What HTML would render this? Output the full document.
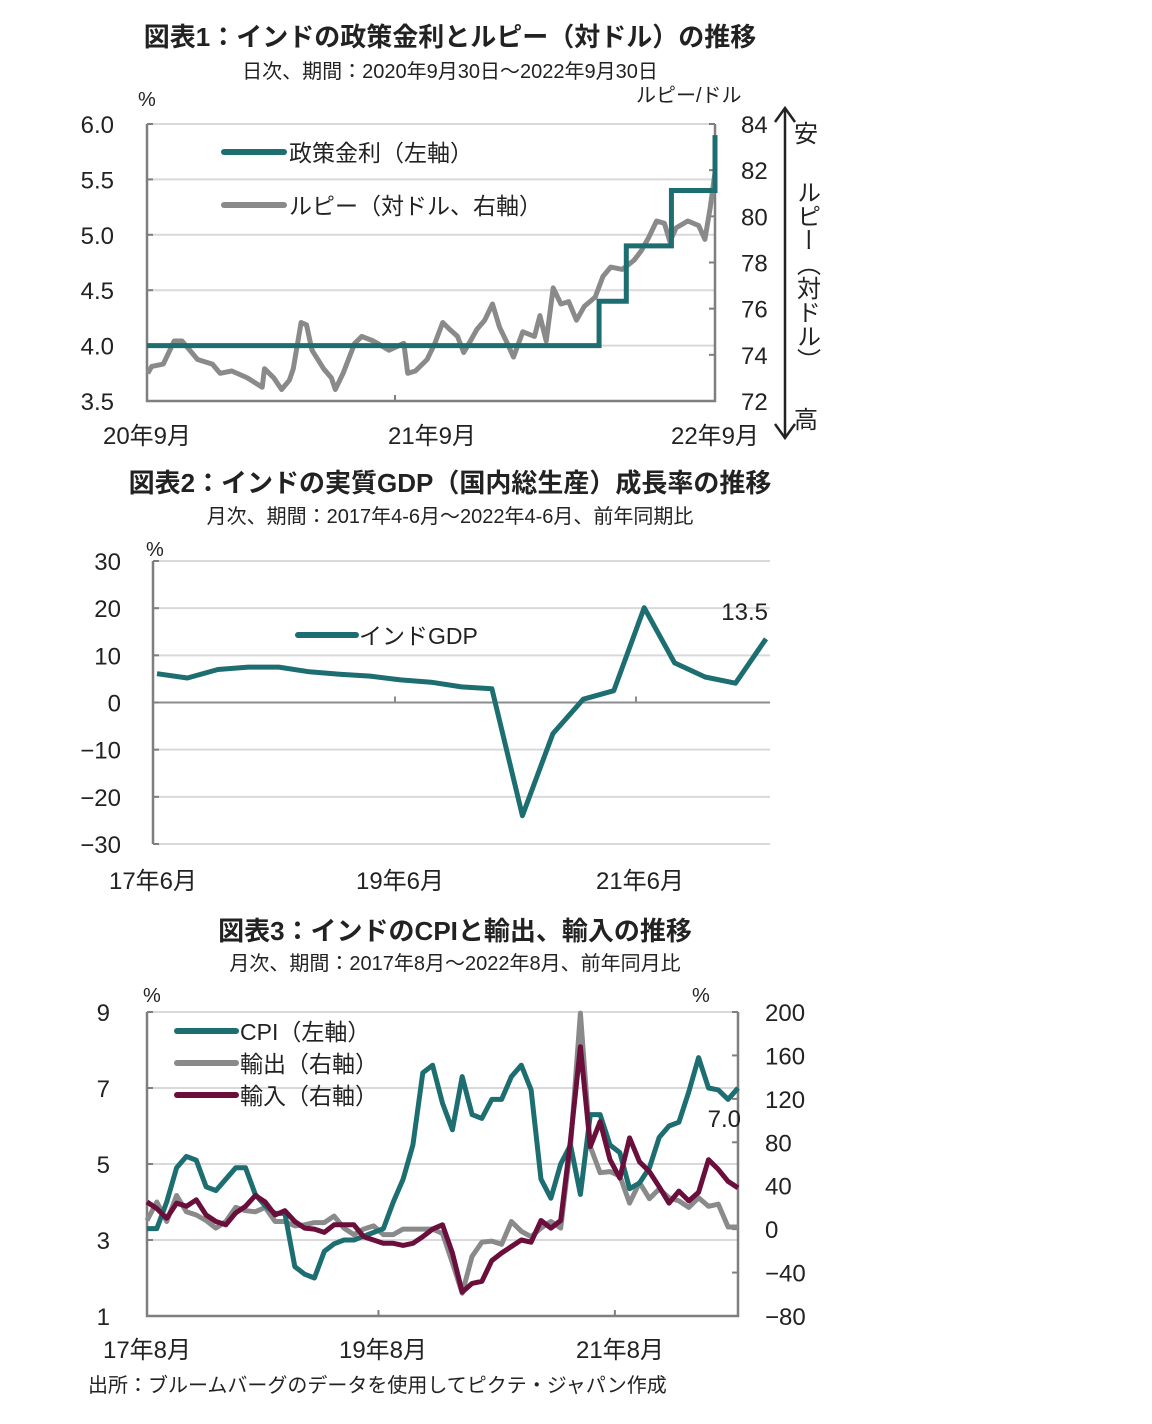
<!DOCTYPE html>
<html><head><meta charset="utf-8">
<style>
html,body{margin:0;padding:0;background:#fff;}
svg{display:block;font-family:"Liberation Sans","Noto Sans CJK JP",sans-serif;}
.t{font-size:26px;font-weight:bold;fill:#222;}
.s{font-size:20px;fill:#222;}
.k{font-size:24px;fill:#222;}
.l{font-size:23px;fill:#222;}
.g{stroke:#d9d9d9;stroke-width:2;}
.ax{stroke:#7f7f7f;stroke-width:2.5;fill:none;}
</style></head><body>
<svg id="chart" width="1152" height="1424" viewBox="0 0 1152 1424">
<text class="t" x="450" y="46" text-anchor="middle">図表1：インドの政策金利とルピー（対ドル）の推移</text>
<text class="s" x="450" y="78" text-anchor="middle">日次、期間：2020年9月30日～2022年9月30日</text>
<text class="s" x="138" y="106">%</text>
<text class="s" x="636" y="102">ルピー/ドル</text>
<g id="c1"></g>
<g>
<line x1="785" y1="110" x2="785" y2="436" stroke="#222" stroke-width="2.5"/>
<polyline points="775,122 785,108 795,122" fill="none" stroke="#222" stroke-width="2.5"/>
<polyline points="775,424 785,438 795,424" fill="none" stroke="#222" stroke-width="2.5"/>
<text class="k" x="806" y="142" text-anchor="middle">安</text>
<text class="k" x="806" y="428" text-anchor="middle">高</text>
<text class="k" x="806" y="180" text-anchor="start" style="writing-mode:vertical-rl;">ルピー（対ドル）</text>
</g>

<text class="t" x="450" y="492" text-anchor="middle">図表2：インドの実質GDP（国内総生産）成長率の推移</text>
<text class="s" x="450" y="523" text-anchor="middle">月次、期間：2017年4-6月～2022年4-6月、前年同期比</text>
<text class="s" x="146" y="556">%</text>
<g id="c2"></g>

<text class="t" x="455" y="940" text-anchor="middle">図表3：インドのCPIと輸出、輸入の推移</text>
<text class="s" x="455" y="970" text-anchor="middle">月次、期間：2017年8月～2022年8月、前年同月比</text>
<text class="s" x="143" y="1002">%</text>
<text class="s" x="692" y="1002">%</text>
<g id="c3"></g>
<text class="s" x="88" y="1392">出所：ブルームバーグのデータを使用してピクテ・ジャパン作成</text>
</svg>
<script>
// ---- Chart 1 data ----
const c1LeftTicks = [6.0, 5.5, 5.0, 4.5, 4.0, 3.5];
const c1RightTicks = [84, 82, 80, 78, 76, 74, 72];
const c1XLabels = ["20年9月", "21年9月", "22年9月"];
const c1XLabelDays = [0, 365, 730];
const rateDays = [0, 581, 616, 674, 730];
const rateValues = [4.0, 4.4, 4.9, 5.4, 5.9];
const rupeeDays = [1,6,21,35,45,65,84,94,109,129,148,151,163,173,183,188,198,205,212,227,237,242,252,267,276,291,311,330,335,345,360,370,380,389,399,407,414,424,434,444,453,463,471,483,498,505,513,522,532,542,552,562,576,586,596,611,626,635,645,655,665,672,680,695,709,717,724,730];
const rupeeValues = [73.2,73.5,73.6,74.6,74.6,73.8,73.6,73.2,73.3,73.0,72.6,73.4,73.0,72.5,72.9,73.4,75.4,75.3,74.2,73.4,73.0,72.5,73.2,74.5,74.8,74.6,74.2,74.5,73.2,73.3,73.8,74.5,75.4,75.1,74.8,74.1,74.5,75.1,75.5,76.2,75.2,74.5,73.9,75.0,74.8,75.7,74.6,76.9,76.2,76.3,75.5,76.1,76.5,77.4,77.8,77.7,78.1,78.5,79.1,79.8,79.7,78.9,79.5,79.8,79.6,79.0,80.4,81.9];

// ---- Chart 2 data ----
const gdpTicks = [30, 20, 10, 0, -10, -20, -30];
const gdpXLabels = ["17年6月", "19年6月", "21年6月"];
const gdpXLabelIdx = [0, 8, 16];
const gdpValues = [6.1,5.2,7.0,7.5,7.5,6.5,6.0,5.6,4.8,4.3,3.3,2.9,-24.0,-6.6,0.7,2.5,20.1,8.4,5.4,4.1,13.5];

// ---- Chart 3 data ----
const c3LeftTicks = [9, 7, 5, 3, 1];
const c3RightTicks = [200, 160, 120, 80, 40, 0, -40, -80];
const c3XLabels = ["17年8月", "19年8月", "21年8月"];
const c3XLabelIdx = [0, 24, 48];
const cpiValues = [3.3,3.3,4.0,4.9,5.2,5.1,4.4,4.3,4.6,4.9,4.9,4.2,3.9,3.7,3.7,2.3,2.1,2.0,2.7,2.9,3.0,3.0,3.1,3.2,3.3,4.0,4.6,5.5,7.4,7.6,6.6,5.9,7.3,6.3,6.2,6.7,6.7,7.3,7.6,6.95,4.6,4.1,5.0,5.5,4.2,6.3,6.3,5.5,5.3,4.35,4.5,4.9,5.7,6.0,6.1,6.9,7.8,7.0,6.95,6.7,7.0];
const exportValues = [8,25,7,31,16,13,8,1,7,20,17,16,20,7,7,3,4,6,6,12,1,-5,0,3,-5,-5,0,0,0,0,-4,-31,-59,-25,-12,-11,-14,7,-2,-7,1,7,1,76,199,76,52,53,49,24,43,28,37,29,26,20,29,21,23,2,2];
const importValues = [25,19,10,24,21,27,13,7,4,15,21,31,25,13,17,7,1,0,-3,4,4,4,-7,-10,-13,-13,-15,-13,-7,0,4,-22,-58,-50,-48,-29,-22,-16,-10,-12,8,1,8,82,168,76,99,64,47,84,62,53,39,24,35,26,34,64,55,44,38];

const NS = "http://www.w3.org/2000/svg";
function mk(parent, tag, attrs, text) {
  const e = document.createElementNS(NS, tag);
  for (const k in attrs) e.setAttribute(k, attrs[k]);
  if (text !== undefined) e.textContent = text;
  parent.appendChild(e);
  return e;
}
function lin(d0, d1, r0, r1) { return v => r0 + (v - d0) * (r1 - r0) / (d1 - d0); }
const TEAL = "#1d6e70", GRAY = "#8a8a8a", MAROON = "#6a0e3b";

// ===== Chart 1 =====
(function () {
  const g = document.getElementById("c1");
  const L = 147, R = 715, T = 124, B = 401;
  const x = lin(0, 730, L, R), yl = lin(3.5, 6.0, B, T), yr = lin(72, 84, B, T);
  c1LeftTicks.forEach(v => {
    if (v !== 3.5) {
      const gl = mk(g, "line", {x1: L, x2: R, y1: yl(v), y2: yl(v), class: "g"});
      
      
    }
    mk(g, "line", {x1: L, x2: L + 6, y1: yl(v), y2: yl(v), stroke: "#7f7f7f", "stroke-width": 2});
    const t = mk(g, "text", {x: 114, y: yl(v) + 9, class: "k", "text-anchor": "end"}, v.toFixed(1));
    
    
  });
  c1RightTicks.forEach(v => {
    mk(g, "line", {x1: R - 6, x2: R, y1: yr(v), y2: yr(v), stroke: "#7f7f7f", "stroke-width": 2});
    const t = mk(g, "text", {x: 741, y: yr(v) + 9, class: "k"}, String(v));
    
    
  });
  mk(g, "path", {d: `M${L},${T} V${B} H${R} V${T}`, class: "ax"});
  mk(g, "line", {x1: 395, x2: 395, y1: B, y2: B - 6, stroke: "#7f7f7f", "stroke-width": 2});
  c1XLabels.forEach((s, i) => {
    const t = mk(g, "text", {x: i === 1 ? 432 : x(c1XLabelDays[i]), y: 444, class: "k", "text-anchor": "middle"}, s);
    
    
  });
  const rp = rupeeDays.map((d, i) => `${x(d).toFixed(1)},${yr(rupeeValues[i]).toFixed(1)}`).join(" ");
  const rl = mk(g, "polyline", {points: rp, fill: "none", stroke: GRAY, "stroke-width": 5, "stroke-linejoin": "round"});
  
  
  let d = `M${x(rateDays[0])},${yl(rateValues[0])}`;
  for (let i = 1; i < rateDays.length; i++) d += ` H${x(rateDays[i])} V${yl(rateValues[i])}`;
  const pl = mk(g, "path", {d: d, fill: "none", stroke: TEAL, "stroke-width": 5});
  
  
  const lg = mk(g, "g", {});
  
  
  mk(lg, "line", {x1: 224, x2: 284, y1: 152, y2: 152, stroke: TEAL, "stroke-width": 6, "stroke-linecap": "round"});
  mk(lg, "text", {x: 289, y: 161, class: "l"}, "政策金利（左軸）");
  mk(lg, "line", {x1: 224, x2: 284, y1: 205, y2: 205, stroke: GRAY, "stroke-width": 6, "stroke-linecap": "round"});
  mk(lg, "text", {x: 289, y: 214, class: "l"}, "ルピー（対ドル、右軸）");
})();

// ===== Chart 2 =====
(function () {
  const g = document.getElementById("c2");
  const L = 153, R = 770, T = 561, B = 844;
  const x = lin(0, 20, 157, 766), y = lin(-30, 30, B, T);
  gdpTicks.forEach(v => {
    const gl = mk(g, "line", {x1: L, x2: R, y1: y(v), y2: y(v), stroke: v === 0 ? "#8c8c8c" : "#d9d9d9", "stroke-width": 2});
    
    
    mk(g, "line", {x1: L, x2: L + 6, y1: y(v), y2: y(v), stroke: "#7f7f7f", "stroke-width": 2});
    const t = mk(g, "text", {x: 121, y: y(v) + 9, class: "k", "text-anchor": "end"}, String(v).replace("-", "−"));
    
    
  });
  mk(g, "line", {x1: L, x2: L, y1: T, y2: B, class: "ax"});
  [395, 636].forEach(px => mk(g, "line", {x1: px, x2: px, y1: y(0), y2: y(0) - 6, stroke: "#8c8c8c", "stroke-width": 2}));
  gdpXLabels.forEach((s, i) => {
    const px = [153, 400, 640][i];
    const t = mk(g, "text", {x: px, y: 889, class: "k", "text-anchor": "middle"}, s);
    
    
  });
  const pts = gdpValues.map((v, i) => `${x(i).toFixed(1)},${y(v).toFixed(1)}`).join(" ");
  const pl = mk(g, "polyline", {points: pts, fill: "none", stroke: TEAL, "stroke-width": 5, "stroke-linejoin": "round"});
  
  
  const lab = mk(g, "text", {x: 768, y: 620, class: "k", "text-anchor": "end"}, gdpValues[gdpValues.length - 1].toFixed(1));
  
  
  const lg = mk(g, "g", {});
  
  
  mk(lg, "line", {x1: 298, x2: 356, y1: 635, y2: 635, stroke: TEAL, "stroke-width": 6, "stroke-linecap": "round"});
  mk(lg, "text", {x: 359, y: 644, class: "l"}, "インドGDP");
})();

// ===== Chart 3 =====
(function () {
  const g = document.getElementById("c3");
  const L = 147, R = 738, T = 1012, B = 1316;
  const x = lin(0, 60, L, R), yl = lin(1, 9, B, T), yr = lin(-80, 200, B, T);
  c3LeftTicks.forEach(v => {
    if (v !== 1) {
      const gl = mk(g, "line", {x1: L, x2: R, y1: yl(v), y2: yl(v), class: "g"});
      
      
    }
    mk(g, "line", {x1: L, x2: L + 6, y1: yl(v), y2: yl(v), stroke: "#7f7f7f", "stroke-width": 2});
    const t = mk(g, "text", {x: 110, y: yl(v) + 9, class: "k", "text-anchor": "end"}, String(v));
    
    
  });
  c3RightTicks.forEach(v => {
    mk(g, "line", {x1: R - 6, x2: R, y1: yr(v), y2: yr(v), stroke: "#7f7f7f", "stroke-width": 2});
    const t = mk(g, "text", {x: 765, y: yr(v) + 9, class: "k"}, String(v).replace("-", "−"));
    
    
  });
  mk(g, "path", {d: `M${L},${T} V${B} H${R} V${T}`, class: "ax"});
  [23.5, 47.5].forEach(i => mk(g, "line", {x1: x(i), x2: x(i), y1: B, y2: B - 6, stroke: "#7f7f7f", "stroke-width": 2}));
  c3XLabels.forEach((s, i) => {
    const px = [147, 383, 620][i];
    const t = mk(g, "text", {x: px, y: 1358, class: "k", "text-anchor": "middle"}, s);
    
    
  });
  function line(vals, sc, col, name) {
    const pts = vals.map((v, i) => `${x(i).toFixed(1)},${sc(v).toFixed(1)}`).join(" ");
    const p = mk(g, "polyline", {points: pts, fill: "none", stroke: col, "stroke-width": 5, "stroke-linejoin": "round"});
    
    
  }
  line(exportValues, yr, GRAY, "exports-line");
  line(cpiValues, yl, TEAL, "cpi-line");
  line(importValues, yr, MAROON, "imports-line");
  const lab = mk(g, "text", {x: 741, y: 1127, class: "k", "text-anchor": "end"}, cpiValues[cpiValues.length - 1].toFixed(1));
  
  
  const lg = mk(g, "g", {});
  
  
  [["CPI（左軸）", TEAL, 1031], ["輸出（右軸）", GRAY, 1063], ["輸入（右軸）", MAROON, 1095]].forEach(r => {
    mk(lg, "line", {x1: 177, x2: 236, y1: r[2], y2: r[2], stroke: r[1], "stroke-width": 6, "stroke-linecap": "round"});
    mk(lg, "text", {x: 240, y: r[2] + 9, class: "l"}, r[0]);
  });
})();
</script>
</body></html>
